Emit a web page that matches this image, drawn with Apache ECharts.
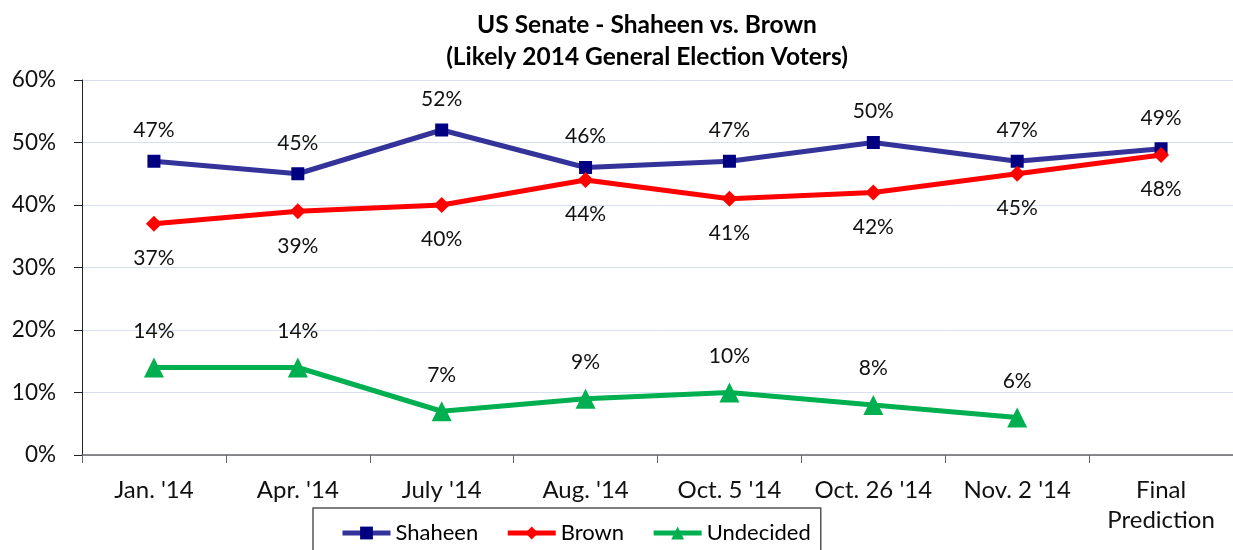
<!DOCTYPE html>
<html><head><meta charset="utf-8">
<script src="https://cdn.jsdelivr.net/npm/echarts@6/dist/echarts.min.js"></script>
<style>html,body{margin:0;padding:0;background:#fff}#c{width:1233px;height:550px}</style>
</head><body><div id="c"></div>
<script>
const categories = ["Jan. '14", "Apr. '14", "July '14", "Aug. '14", "Oct. 5 '14", "Oct. 26 '14", "Nov. 2 '14", "Final\nPrediction"];
const shaheen = [47, 45, 52, 46, 47, 50, 47, 49];
const brown = [37, 39, 40, 44, 41, 42, 45, 48];
const undecided = [14, 14, 7, 9, 10, 8, 6, null];
const yTicks = [0, 10, 20, 30, 40, 50, 60];

const F = "Lato, 'Open Sans', sans-serif";
const chart = echarts.init(document.getElementById('c'));
const lbl = (pos, dist) => ({show: true, position: pos, distance: dist, formatter: p => p.value + '%', fontFamily: F, fontSize: 21, color: '#111'});
chart.setOption({
  animation: false,
  title: {text: 'US Senate - Shaheen vs. Brown\n(Likely 2014 General Election Voters)', left: 642, textAlign: 'center', top: 4,
    textStyle: {fontFamily: F, fontWeight: 'bold', fontSize: 24.5, lineHeight: 32, color: '#000'}},
  grid: {left: 82, right: -4, top: 80, bottom: 95},
  legend: {left: 313, top: 508, itemWidth: 48, itemHeight: 16, itemGap: 27, padding: [14, 10, 20, 27],
    borderColor: '#555', borderWidth: 1.5,
    lineStyle: {width: 5},
    textStyle: {fontFamily: F, fontSize: 22, color: '#000'},
    data: ['Shaheen', 'Brown', 'Undecided']},
  xAxis: {type: 'category', data: categories, boundaryGap: true,
    axisLine: {lineStyle: {color: '#666', width: 1.5}},
    axisTick: {show: true, interval: 0, length: 8, lineStyle: {color: '#666'}},
    axisLabel: {interval: 0, fontFamily: F, fontSize: 24, color: '#111', margin: 20, lineHeight: 30}},
  yAxis: {type: 'value', min: 0, max: 60, interval: 10,
    axisLine: {show: true, lineStyle: {color: '#222', width: 1}},
    axisTick: {show: true, length: 8, lineStyle: {color: '#222'}},
    splitLine: {lineStyle: {color: '#d6e0f0', width: 1}},
    axisLabel: {formatter: v => yTicks.includes(v) ? v + '%' : '', fontFamily: F, fontSize: 22.5, color: '#111', margin: 26}},
  series: [
    {name: 'Shaheen', type: 'line', data: shaheen, symbol: 'rect', symbolSize: 13,
      lineStyle: {color: '#333399', width: 5}, itemStyle: {color: '#000080'},
      label: lbl('top', 14)},
    {name: 'Brown', type: 'line', data: brown, symbol: 'diamond', symbolSize: 16,
      lineStyle: {color: '#ff0000', width: 5}, itemStyle: {color: '#ff0000'},
      label: lbl('bottom', 16)},
    {name: 'Undecided', type: 'line', data: undecided, symbol: 'triangle', symbolSize: 20,
      lineStyle: {color: '#00b050', width: 5}, itemStyle: {color: '#00b050'},
      label: lbl('top', 16)}
  ]
});
</script></body></html>
